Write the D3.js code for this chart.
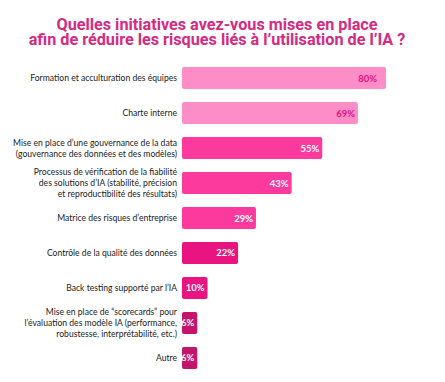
<!DOCTYPE html>
<html><head><meta charset="utf-8">
<script src="https://cdn.jsdelivr.net/npm/d3@7"></script>
<style>body{margin:0;background:#fff}</style>
</head><body>
<svg id="chart" width="445" height="382"></svg>
<script>
const titleLines = ["Quelles initiatives avez-vous mises en place", "afin de réduire les risques liés à l’utilisation de l’IA ?"];
const categories = [
  ["Formation et acculturation des équipes"],
  ["Charte interne"],
  ["Mise en place d’une gouvernance de la data", "(gouvernance des données et des modèles)"],
  ["Processus de vérification de la fiabilité", "des solutions d’IA (stabilité, précision", "et reproductibilité des résultats)"],
  ["Matrice des risques d’entreprise"],
  ["Contrôle de la qualité des données"],
  ["Back testing supporté par l’IA"],
  ["Mise en place de “scorecards” pour", "l’évaluation des modèle IA (performance,", "robustesse, interprétabilité, etc.)"],
  ["Autre"]
];
const values = [80, 69, 55, 43, 29, 22, 10, 6, 6];
const barColors = ["#fd8dc7", "#fd8dc7", "#fc3a9d", "#fc3a9d", "#fc3a9d", "#e9147f", "#e9147f", "#c3156c", "#c3156c"];
const labelColors = ["#e2127c", "#e2127c", "#fff", "#fff", "#fff", "#fff", "#fff", "#fff", "#fff"];

const svg = d3.select("#chart");
const idx = d3.range(values.length);
const x = d3.scaleLinear().domain([0, 100]).range([182, 437]);
const y = d3.scaleBand().domain(idx).range([67, 369]).paddingInner(0.37).paddingOuter(0);

svg.append("g").selectAll("text").data(titleLines).join("text")
  .attr("x", 217).attr("y", (d, i) => 30 + i * 14.6)
  .attr("text-anchor", "middle")
  .attr("font-family", "Roboto, sans-serif").attr("font-weight", "bold")
  .attr("font-size", 16.2).attr("fill", "#d62a82")
  .text(d => d);

svg.append("g").selectAll("rect").data(idx).join("rect")
  .attr("x", x(0)).attr("y", i => y(i))
  .attr("width", i => x(values[i]) - x(0))
  .attr("height", y.bandwidth())
  .attr("rx", 2)
  .attr("fill", i => barColors[i]);

svg.append("g").selectAll("text").data(idx).join("text")
  .attr("x", i => x(values[i]) - (values[i] >= 75 ? 9 : 3))
  .attr("y", i => y(i) + y.bandwidth() / 2 + 3.5)
  .attr("text-anchor", "end")
  .attr("font-family", "Lato, sans-serif").attr("font-weight", "bold")
  .attr("font-size", 9.5)
  .attr("fill", i => labelColors[i])
  .text(i => values[i] + "%");

const lab = svg.append("g").selectAll("text").data(idx).join("text")
  .attr("text-anchor", "end")
  .attr("font-family", "Lato, sans-serif")
  .attr("font-size", 8.6).attr("fill", "#222");
lab.each(function(i) {
  const lines = categories[i];
  const lh = 10.8;
  const cy = y(i) + y.bandwidth() / 2;
  d3.select(this).selectAll("tspan").data(lines).join("tspan")
    .attr("x", 177)
    .attr("y", (d, k) => cy + (k - (lines.length - 1) / 2) * lh + 3.1)
    .text(d => d);
});
</script>
</body></html>
